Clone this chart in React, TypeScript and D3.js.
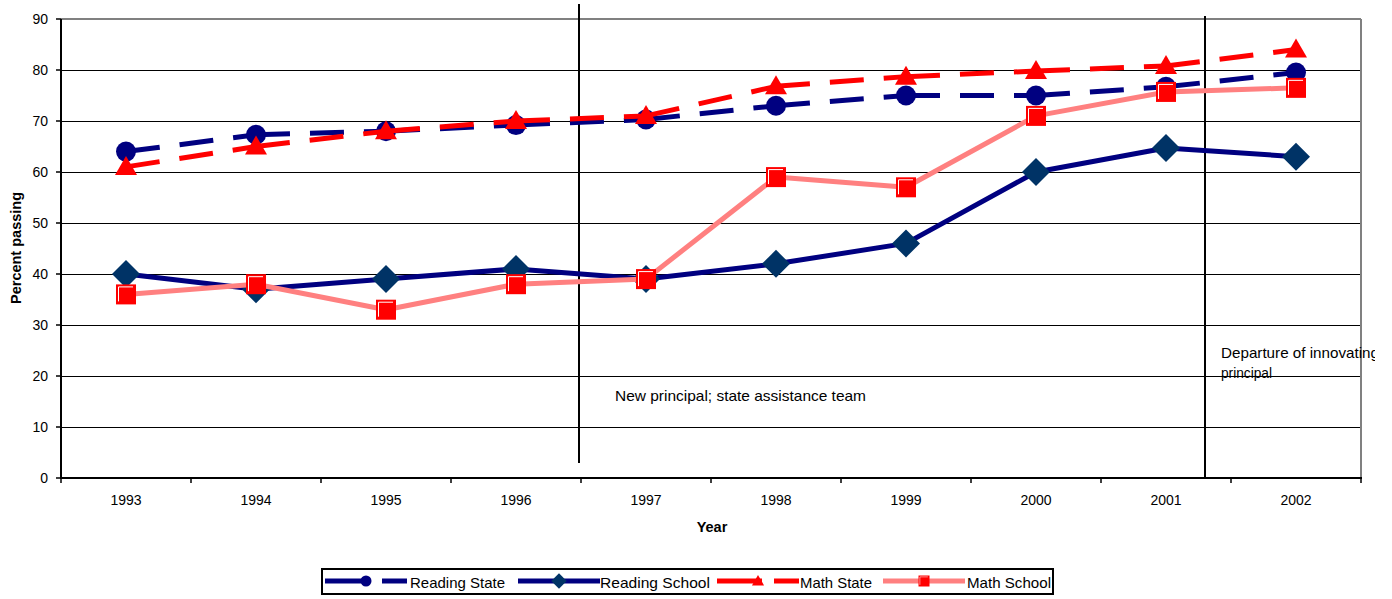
import React from "react";
import * as d3 from "d3";

const years = ["1993", "1994", "1995", "1996", "1997", "1998", "1999", "2000", "2001", "2002"];
const readingState = [64, 67.3, 68, 69.2, 70.3, 73, 75, 75, 76.7, 79.5];
const readingSchool = [40, 37, 39, 41, 39, 42, 46, 60, 64.7, 63];
const mathState = [61, 65, 68, 70, 71, 76.8, 78.7, 79.8, 80.8, 84];
const mathSchool = [36, 38, 33, 38, 39, 59, 57, 71, 75.7, 76.5];
const yTicks = [0, 10, 20, 30, 40, 50, 60, 70, 80, 90];

const W = 1392, H = 599;
const L = 61, R = 1361, T = 19, B = 478;
const FONT = "'Liberation Sans', Arial, sans-serif";

const NAVY = "#000080";
const DIAMOND = "#003366";
const RED = "#FF0000";
const PINK = "#FF8080";

const x = d3.scaleBand<string>().domain(years).range([L, R]);
const y = d3.scaleLinear().domain([0, 90]).range([B, T]);
const cx = (yr: string) => (x(yr) as number) + x.bandwidth() / 2;

function Circle({ px, py }: { px: number; py: number }) {
  return <circle cx={px} cy={py} r={10} fill={NAVY} />;
}
function Diamond({ px, py }: { px: number; py: number }) {
  const s = 14;
  return <path d={`M${px},${py - s}L${px + s},${py}L${px},${py + s}L${px - s},${py}Z`} fill={DIAMOND} />;
}
function Triangle({ px, py }: { px: number; py: number }) {
  return <path d={`M${px},${py - 11}L${px + 11},${py + 8}L${px - 11},${py + 8}Z`} fill={RED} />;
}
function Square({ px, py }: { px: number; py: number }) {
  return (
    <g>
      <rect x={px - 10} y={py - 10} width={20} height={20} fill={RED} />
      <path d={`M${px - 7.5},${py + 7}V${py - 7.5}H${px + 7}`} fill="none" stroke="#fff" strokeWidth={1} />
    </g>
  );
}

function Series({ vals, color, dashed, Marker }: { vals: number[]; color: string; dashed: boolean; Marker: any }) {
  const pts = vals.map((v, i) => [cx(years[i]), y(v)] as [number, number]);
  return (
    <g>
      {dashed
        ? pts.slice(1).map((p, i) => (
            <line key={i} x1={pts[i][0]} y1={pts[i][1]} x2={p[0]} y2={p[1]} stroke={color} strokeWidth={5} strokeDasharray="34 20" />
          ))
        : <path d={d3.line()(pts) as string} fill="none" stroke={color} strokeWidth={5} strokeLinejoin="round" />}
      {pts.map((p, i) => <Marker key={i} px={p[0]} py={p[1]} />)}
    </g>
  );
}

export default function App() {
  const legendItems = [
    { label: "Reading State", color: NAVY, dashed: true, Marker: Circle, x0: 325, tx: 410, tl: 95 },
    { label: "Reading School", color: NAVY, dashed: false, Marker: Diamond, x0: 518, tx: 600, tl: 110 },
    { label: "Math State", color: RED, dashed: true, Marker: Triangle, x0: 717, tx: 800, tl: 72 },
    { label: "Math School", color: PINK, dashed: false, Marker: Square, x0: 883, tx: 967, tl: 84 },
  ];
  const ly = 581;
  return (
    <svg width={W} height={H} style={{ position: "absolute", left: 0, top: 0, background: "#fff" }} fontFamily={FONT}>
      <defs>
        <clipPath id="clipAll"><rect x={0} y={0} width={1375} height={H} /></clipPath>
      </defs>
      {/* gridlines */}
      {yTicks.filter(t => t > 0 && t < 90).map(t => (
        <line key={t} x1={L} x2={R} y1={Math.round(y(t)) + 0.5} y2={Math.round(y(t)) + 0.5} stroke="#000" strokeWidth={1} />
      ))}
      {/* plot border top/right */}
      <line x1={L} x2={R} y1={T} y2={T} stroke="#808080" strokeWidth={2} />
      <line x1={R} x2={R} y1={T} y2={B} stroke="#808080" strokeWidth={2} />
      {/* y axis */}
      <line x1={L} x2={L} y1={T} y2={B + 1} stroke="#000" strokeWidth={2} />
      {yTicks.map(t => (
        <g key={t}>
          <line x1={L - 5} x2={L} y1={y(t)} y2={y(t)} stroke="#000" strokeWidth={1.5} />
          <text x={48} y={y(t) + 5} textAnchor="end" fontSize={14} fill="#000">{t}</text>
        </g>
      ))}
      {/* x axis */}
      <line x1={L} x2={R + 1} y1={B} y2={B} stroke="#000" strokeWidth={2} />
      {d3.range(years.length + 1).map(i => {
        const xx = L + i * x.bandwidth();
        return <line key={i} x1={xx} x2={xx} y1={B} y2={B + 5} stroke="#000" strokeWidth={1.5} />;
      })}
      {years.map(yr => (
        <text key={yr} x={cx(yr)} y={505} textAnchor="middle" fontSize={14} fill="#000">{yr}</text>
      ))}
      <text x={712} y={532} textAnchor="middle" fontSize={14.5} fontWeight="bold">Year</text>
      <text transform={`translate(21,${248}) rotate(-90)`} textAnchor="middle" fontSize={14.5} fontWeight="bold">Percent passing</text>

      {/* event lines */}
      <line x1={579} x2={579} y1={4} y2={463} stroke="#000" strokeWidth={2} />
      <line x1={1205} x2={1205} y1={16} y2={B} stroke="#000" strokeWidth={2} />
      <text x={615} y={401} fontSize={15} fill="#000" textLength={251} lengthAdjust="spacingAndGlyphs">New principal; state assistance team</text>
      <g clipPath="url(#clipAll)">
        <text x={1221} y={358} fontSize={15} fill="#000" textLength={158} lengthAdjust="spacingAndGlyphs">Departure of innovating</text>
        <text x={1221} y={378} fontSize={15} fill="#000" textLength={51} lengthAdjust="spacingAndGlyphs">principal</text>
      </g>

      {/* series */}
      <Series vals={readingState} color={NAVY} dashed={true} Marker={Circle} />
      <Series vals={readingSchool} color={NAVY} dashed={false} Marker={Diamond} />
      <Series vals={mathState} color={RED} dashed={true} Marker={Triangle} />
      <Series vals={mathSchool} color={PINK} dashed={false} Marker={Square} />

      {/* legend */}
      <rect x={322} y={569} width={731} height={25} fill="#fff" stroke="#000" strokeWidth={2} />
      {legendItems.map(it => (
        <g key={it.label}>
          <line x1={it.x0} x2={it.x0 + 82} y1={ly} y2={ly} stroke={it.color} strokeWidth={5} strokeDasharray={it.dashed ? "45 12" : undefined} />
          <g transform={`translate(${it.x0 + 41},${ly}) scale(0.55) translate(${-(it.x0 + 41)},${-ly})`}>
            <it.Marker px={it.x0 + 41} py={ly} />
          </g>
          <text x={it.tx} y={ly + 7} fontSize={15} fill="#000" textLength={it.tl} lengthAdjust="spacingAndGlyphs">{it.label}</text>
        </g>
      ))}
    </svg>
  );
}
